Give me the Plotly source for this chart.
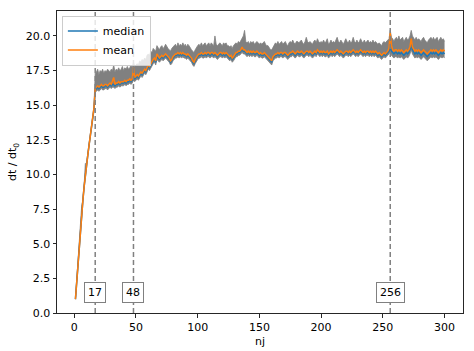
import plotly.graph_objects as go

nj = list(range(1, 301))

median = [
1.0, 2.3, 3.6, 4.8, 6.0, 7.1, 8.1, 9.1, 10.0, 10.7,
11.4, 12.1, 12.8, 13.4, 14.0, 14.7, 16.1, 16.2, 16.3, 16.2,
16.3, 16.4, 16.3, 16.3, 16.4, 16.4, 16.3, 16.4, 16.5, 16.4,
16.5, 16.5, 16.4, 16.5, 16.5, 16.6, 16.5, 16.6, 16.6, 16.6,
16.7, 16.6, 16.7, 16.7, 16.8, 16.7, 16.8, 17.0, 16.9, 17.0,
17.1, 17.0, 17.2, 17.3, 17.2, 17.4, 17.5, 17.4, 17.6, 17.8,
17.7, 17.9, 18.0, 18.2, 18.3, 18.1, 18.5, 18.4, 18.3, 18.4,
18.5, 18.4, 18.5, 18.6, 18.5, 18.4, 18.3, 18.1, 18.2, 18.4,
18.5, 18.6, 18.6, 18.7, 18.6, 18.7, 18.6, 18.7, 18.6, 18.6,
18.5, 18.6, 18.5, 18.4, 18.3, 18.1, 18.0, 18.2, 18.4, 18.5,
18.6, 18.6, 18.7, 18.6, 18.6, 18.7, 18.6, 18.7, 18.7, 18.6,
18.7, 18.7, 18.6, 18.7, 18.6, 18.5, 18.6, 18.7, 18.7, 18.6,
18.7, 18.6, 18.7, 18.6, 18.5, 18.4, 18.5, 18.3, 18.4, 18.6,
18.7, 18.7, 18.8, 18.8, 18.9, 19.0, 18.9, 18.9, 18.8, 18.7,
18.8, 18.7, 18.8, 18.7, 18.8, 18.7, 18.7, 18.8, 18.7, 18.6,
18.7, 18.6, 18.6, 18.7, 18.6, 18.5, 18.4, 18.3, 18.2, 18.1,
18.4, 18.5, 18.6, 18.6, 18.7, 18.6, 18.7, 18.7, 18.6, 18.7,
18.7, 18.6, 18.5, 18.6, 18.7, 18.7, 18.8, 18.7, 18.6, 18.7,
18.8, 18.7, 18.7, 18.8, 18.7, 18.6, 18.7, 18.8, 18.8, 18.7,
18.8, 18.7, 18.6, 18.7, 18.8, 18.7, 18.9, 18.8, 18.7, 18.8,
18.7, 18.8, 18.7, 18.7, 18.8, 18.6, 18.7, 18.8, 18.7, 18.8,
18.7, 18.8, 18.9, 18.8, 18.7, 18.8, 18.7, 18.6, 18.7, 18.8,
18.8, 18.7, 18.8, 18.7, 18.8, 18.9, 18.8, 18.7, 18.8, 18.7,
18.8, 18.9, 18.8, 18.7, 18.8, 18.7, 18.8, 18.8, 18.7, 18.8,
18.7, 18.8, 18.7, 18.8, 18.7, 18.6, 18.7, 18.6, 18.5, 18.6,
18.7, 18.6, 18.7, 18.8, 18.9, 19.2, 18.9, 18.8, 18.7, 18.8,
18.8, 18.7, 18.8, 18.7, 18.8, 18.7, 18.6, 18.7, 18.8, 18.7,
18.8, 19.0, 19.4, 19.0, 18.8, 18.7, 18.8, 18.7, 18.8, 18.7,
18.6, 18.7, 18.8, 18.7, 18.6, 18.5, 18.6, 18.7, 18.8, 18.7,
18.8, 18.7, 18.8, 18.7, 18.6, 18.7, 18.8, 18.7, 18.8, 18.7,
]

mean = [
1.0, 2.3, 3.6, 4.8, 6.0, 7.1, 8.1, 9.1, 10.0, 10.7,
11.4, 12.1, 12.8, 13.4, 14.0, 14.8, 16.2, 16.3, 16.4, 16.3,
16.4, 16.5, 16.4, 16.4, 16.5, 16.5, 16.4, 16.5, 16.6, 16.5,
16.7, 17.0, 16.5, 16.6, 16.6, 16.7, 16.6, 16.7, 16.7, 16.7,
16.8, 16.7, 16.8, 16.8, 16.9, 16.8, 16.9, 17.7, 17.0, 17.1,
17.2, 17.1, 17.3, 17.4, 17.3, 17.5, 17.6, 17.5, 17.7, 17.9,
17.8, 18.0, 18.1, 18.3, 18.4, 18.2, 18.7, 18.5, 18.4, 18.5,
18.6, 18.5, 18.6, 18.7, 18.6, 18.5, 18.4, 18.2, 18.3, 18.5,
18.6, 18.7, 18.7, 18.8, 18.7, 18.8, 18.7, 18.8, 18.7, 18.7,
18.6, 18.7, 18.6, 18.5, 18.4, 18.2, 18.1, 18.3, 18.5, 18.6,
18.7, 18.7, 18.8, 18.7, 18.7, 18.8, 18.7, 18.8, 18.8, 18.7,
18.8, 18.8, 18.7, 18.8, 18.7, 18.6, 18.7, 18.8, 18.8, 18.7,
18.8, 18.7, 18.8, 18.7, 18.6, 18.5, 18.6, 18.4, 18.5, 18.7,
18.8, 18.8, 18.9, 18.9, 19.0, 19.2, 19.0, 19.0, 18.9, 18.8,
18.9, 18.8, 18.9, 18.8, 18.9, 18.8, 18.8, 18.9, 18.8, 18.7,
18.8, 18.7, 18.7, 18.8, 18.7, 18.6, 18.5, 18.4, 18.3, 18.2,
18.5, 18.6, 18.7, 18.7, 18.8, 18.7, 18.8, 18.8, 18.7, 18.8,
18.8, 18.7, 18.6, 18.7, 18.8, 18.8, 18.9, 18.8, 18.7, 18.8,
18.9, 18.8, 18.8, 18.9, 18.8, 18.7, 18.8, 18.9, 18.9, 18.8,
18.9, 18.8, 18.7, 18.8, 18.9, 18.8, 19.0, 18.9, 18.8, 18.9,
18.8, 18.9, 18.8, 18.8, 18.9, 18.7, 18.8, 18.9, 18.8, 18.9,
18.8, 18.9, 19.0, 18.9, 18.8, 18.9, 18.8, 18.7, 18.8, 18.9,
18.9, 18.8, 18.9, 18.8, 18.9, 19.0, 18.9, 18.8, 18.9, 18.8,
18.9, 19.0, 18.9, 18.8, 18.9, 18.8, 18.9, 18.9, 18.8, 18.9,
18.8, 18.9, 18.8, 18.9, 18.8, 18.7, 18.8, 18.7, 18.6, 18.7,
18.8, 18.7, 18.8, 18.9, 19.1, 20.2, 19.3, 19.0, 18.9, 19.0,
19.0, 18.9, 19.0, 18.9, 19.0, 18.9, 18.8, 18.9, 19.0, 18.9,
19.0, 19.2, 19.8, 19.2, 19.0, 18.9, 19.0, 18.9, 19.0, 18.9,
18.8, 18.9, 19.0, 18.9, 18.8, 18.7, 18.8, 18.9, 19.0, 18.9,
19.0, 18.9, 19.0, 18.9, 18.8, 18.9, 19.0, 18.9, 19.0, 18.9,
]

band_hi = [
1.0, 2.3, 3.6, 4.8, 6.1, 7.7, 8.2, 9.2, 10.8, 10.8,
11.5, 12.2, 12.9, 13.5, 14.1, 14.9, 17.3, 17.4, 17.6, 17.2,
17.5, 17.4, 17.6, 17.3, 17.5, 17.4, 17.6, 17.5, 17.4, 17.6,
17.5, 17.9, 17.4, 17.6, 17.5, 17.7, 17.5, 17.6, 17.8, 17.5,
17.7, 17.6, 17.8, 17.6, 17.7, 17.9, 17.7, 18.1, 17.8, 17.9,
18.0, 17.9, 18.2, 18.1, 18.3, 18.2, 18.4, 18.3, 18.6, 18.7,
18.6, 18.9, 18.8, 19.1, 19.0, 18.9, 19.3, 19.1, 19.0, 19.2,
19.3, 19.1, 19.2, 19.4, 19.2, 19.1, 19.0, 18.9, 19.1, 19.2,
19.3, 19.4, 19.2, 19.5, 19.3, 19.4, 19.3, 19.5, 19.3, 19.4,
19.2, 19.4, 19.3, 19.1, 19.0, 18.9, 18.8, 19.0, 19.2, 19.3,
19.4, 19.3, 19.5, 19.3, 19.4, 19.5, 19.3, 19.4, 19.5, 19.3,
19.5, 19.4, 19.3, 20.0, 19.4, 19.3, 19.4, 19.5, 19.4, 19.3,
19.5, 19.4, 19.5, 19.3, 19.3, 19.2, 19.3, 19.1, 19.3, 19.4,
19.5, 19.4, 19.6, 19.5, 19.7, 19.8, 20.0, 20.4, 19.6, 19.5,
19.6, 19.4, 19.6, 19.5, 19.6, 19.4, 19.5, 19.6, 19.5, 19.4,
19.5, 19.4, 19.5, 19.6, 19.4, 19.3, 19.3, 19.1, 19.0, 19.0,
19.2, 19.4, 19.5, 19.4, 19.6, 19.4, 19.5, 19.6, 19.4, 19.5,
19.6, 19.4, 19.3, 19.5, 19.6, 19.5, 19.7, 19.5, 19.4, 19.6,
19.6, 19.5, 19.6, 19.7, 19.5, 19.4, 19.6, 19.9, 19.6, 19.5,
19.6, 19.5, 19.4, 19.6, 19.7, 19.5, 19.8, 19.6, 19.5, 19.6,
19.5, 19.7, 19.5, 19.6, 19.8, 19.4, 19.5, 19.7, 19.5, 19.6,
19.5, 19.7, 19.9, 19.6, 19.5, 19.7, 19.5, 19.4, 19.6, 19.8,
19.6, 19.5, 19.7, 19.5, 19.6, 19.9, 19.6, 19.5, 19.7, 19.5,
19.6, 19.8, 19.6, 19.5, 19.7, 19.5, 19.6, 19.7, 19.5, 19.6,
19.5, 19.7, 19.5, 19.6, 19.5, 19.4, 19.5, 19.4, 19.3, 19.5,
19.6, 19.5, 19.6, 19.7, 19.8, 20.4, 19.9, 19.8, 19.6, 19.8,
19.9, 19.7, 20.0, 19.7, 19.8, 19.9, 19.6, 19.8, 19.9, 19.7,
19.8, 20.0, 20.4, 20.0, 19.8, 19.7, 19.9, 19.7, 19.8, 19.7,
19.6, 19.8, 19.9, 19.7, 19.6, 19.5, 19.7, 19.8, 19.9, 19.7,
19.9, 19.7, 19.8, 19.9, 19.6, 19.8, 19.9, 19.7, 19.8, 19.6,
]

band_lo = [
1.0, 2.3, 3.6, 4.8, 6.0, 7.1, 8.1, 9.1, 10.0, 10.7,
11.4, 12.1, 12.8, 13.4, 14.0, 14.7, 16.0, 16.0, 16.1, 16.0,
16.1, 16.2, 16.1, 16.1, 16.2, 16.2, 16.1, 16.2, 16.3, 16.2,
16.3, 16.3, 16.2, 16.3, 16.3, 16.4, 16.3, 16.4, 16.4, 16.4,
16.5, 16.4, 16.5, 16.5, 16.6, 16.5, 16.6, 16.8, 16.7, 16.8,
16.9, 16.8, 17.0, 17.1, 17.0, 17.2, 17.3, 17.2, 17.4, 17.6,
17.5, 17.7, 17.8, 18.0, 18.1, 17.9, 18.3, 18.2, 18.1, 18.2,
18.3, 18.2, 18.3, 18.4, 18.3, 18.2, 18.1, 17.9, 18.0, 18.2,
18.3, 18.4, 18.4, 18.5, 18.4, 18.5, 18.4, 18.5, 18.4, 18.4,
18.3, 18.4, 18.3, 18.2, 18.1, 17.9, 17.8, 18.0, 18.2, 18.3,
18.4, 18.4, 18.5, 18.4, 18.4, 18.5, 18.4, 18.5, 18.5, 18.4,
18.5, 18.5, 18.4, 18.5, 18.4, 18.3, 18.4, 18.5, 18.5, 18.4,
18.5, 18.4, 18.5, 18.4, 18.3, 18.2, 18.3, 18.1, 18.2, 18.4,
18.5, 18.5, 18.6, 18.6, 18.7, 18.8, 18.7, 18.7, 18.6, 18.5,
18.6, 18.5, 18.6, 18.5, 18.6, 18.5, 18.5, 18.6, 18.5, 18.4,
18.5, 18.4, 18.4, 18.5, 18.4, 18.3, 18.2, 18.1, 18.0, 17.9,
18.2, 18.3, 18.4, 18.4, 18.5, 18.4, 18.5, 18.5, 18.4, 18.5,
18.5, 18.4, 18.3, 18.4, 18.5, 18.5, 18.6, 18.5, 18.4, 18.5,
18.6, 18.5, 18.5, 18.6, 18.5, 18.4, 18.5, 18.6, 18.6, 18.5,
18.6, 18.5, 18.4, 18.5, 18.6, 18.5, 18.7, 18.6, 18.5, 18.6,
18.5, 18.6, 18.5, 18.5, 18.6, 18.4, 18.5, 18.6, 18.5, 18.6,
18.5, 18.6, 18.7, 18.6, 18.5, 18.6, 18.5, 18.4, 18.5, 18.6,
18.6, 18.5, 18.6, 18.5, 18.6, 18.7, 18.6, 18.5, 18.6, 18.5,
18.6, 18.7, 18.6, 18.5, 18.6, 18.5, 18.6, 18.6, 18.5, 18.6,
18.5, 18.6, 18.5, 18.6, 18.5, 18.4, 18.5, 18.4, 18.3, 18.4,
18.5, 18.4, 18.5, 18.6, 18.7, 18.9, 18.6, 18.5, 18.4, 18.5,
18.5, 18.4, 18.5, 18.4, 18.5, 18.4, 18.3, 18.4, 18.5, 18.4,
18.5, 18.7, 19.0, 18.7, 18.5, 18.4, 18.5, 18.4, 18.5, 18.4,
18.3, 18.4, 18.5, 18.4, 18.3, 18.2, 18.3, 18.4, 18.5, 18.4,
18.5, 18.4, 18.5, 18.4, 18.3, 18.4, 18.5, 18.4, 18.5, 18.4,
]

marks = [17, 48, 256]
mark_labels = ["17", "48", "256"]
label_y = 1.5

x_ticks = [0, 50, 100, 150, 200, 250, 300]
y_ticks = [0.0, 2.5, 5.0, 7.5, 10.0, 12.5, 15.0, 17.5, 20.0]

FONT = "DejaVu Sans"
FS = 11
GRAY = "rgb(128,128,128)"
AXC = "#262626"

fig = go.Figure()
fig.add_trace(go.Scatter(x=nj, y=band_lo, mode="lines", line=dict(color=GRAY, width=0.8),
                         showlegend=False, hoverinfo="skip"))
fig.add_trace(go.Scatter(x=nj, y=band_hi, mode="lines", line=dict(color=GRAY, width=0.8),
                         fill="tonexty", fillcolor=GRAY, showlegend=False, hoverinfo="skip"))
fig.add_trace(go.Scatter(x=nj, y=median, mode="lines", name="median",
                         line=dict(color="#1f77b4", width=1.5)))
fig.add_trace(go.Scatter(x=nj, y=mean, mode="lines", name="mean",
                         line=dict(color="#ff7f0e", width=1.5)))

for m, lab in zip(marks, mark_labels):
    fig.add_vline(x=m, line=dict(color=GRAY, width=1.5, dash="5px,3px"))
    fig.add_annotation(x=m, y=label_y, text=lab, showarrow=False,
                       font=dict(family=FONT, size=FS, color="black"),
                       bgcolor="white", bordercolor=GRAY, borderwidth=1, borderpad=3)

axis_common = dict(showline=True, linecolor=AXC, linewidth=1, mirror=True,
                   ticks="outside", ticklen=3.5, tickwidth=1, tickcolor=AXC,
                   showgrid=False, zeroline=False, automargin=False,
                   tickfont=dict(family=FONT, size=FS, color="black"))

fig.update_layout(
    width=474, height=351,
    margin=dict(l=57, r=11, t=11, b=38),
    plot_bgcolor="white", paper_bgcolor="white",
    font=dict(family=FONT, size=FS, color="black"),
    xaxis=dict(range=[-13.95, 314.95], tickvals=x_ticks,
               title=dict(text="nj", font=dict(family=FONT, size=FS), standoff=4),
               **axis_common),
    yaxis=dict(range=[0, 21.8], tickvals=y_ticks, tickformat=".1f",
               title=dict(text="dt / dt<sub>0</sub>", font=dict(family=FONT, size=FS), standoff=6),
               **axis_common),
    legend=dict(x=0.012, y=0.985, xanchor="left", yanchor="top", traceorder="normal",
                bgcolor="rgba(255,255,255,0.8)", bordercolor="#cccccc", borderwidth=1,
                font=dict(family=FONT, size=FS), tracegroupgap=0,
                itemwidth=30),
    showlegend=True,
)

fig.write_html("out.html")
